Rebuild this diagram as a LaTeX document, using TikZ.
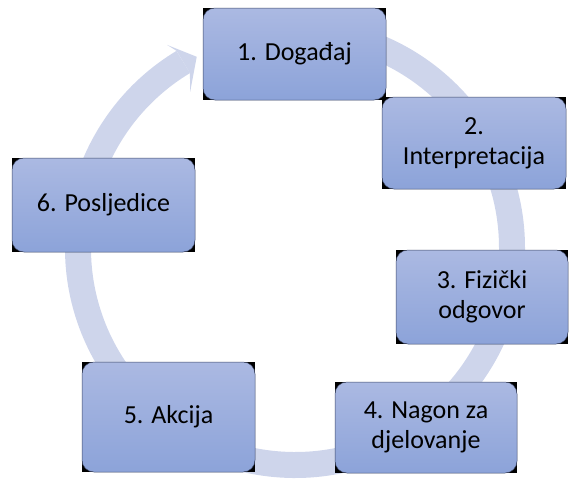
\documentclass[tikz,border=0pt]{standalone}
\usepackage{fontspec}
\setmainfont{Carlito}
\usetikzlibrary{backgrounds}

\definecolor{ringblue}{RGB}{206,213,235}
\definecolor{boxtop}{RGB}{171,185,226}
\definecolor{boxbottom}{RGB}{140,163,217}
\definecolor{boxline}{RGB}{60,70,100}

\tikzset{
  phase/.style={rounded corners=12pt, top color=boxtop, bottom color=boxbottom,
    draw=boxline, line width=0.5pt, align=center, text=black, inner sep=0pt,
    font=\fontsize{26}{30}\selectfont},
}

\begin{document}
\begin{tikzpicture}[x=1pt, y=-1pt, line join=round]

  %% ==== the six phases ====
  \node[phase, minimum width=183pt, minimum height=92pt] (dogadaj) at (294.5,54) {1. Događaj};
  \node[phase, minimum width=184pt, minimum height=92pt] (interpretacija) at (474,143) {2.\\Interpretacija};
  \node[phase, minimum width=172pt, minimum height=94pt] (odgovor) at (482,297) {3. Fizički\\odgovor};
  \node[phase, minimum width=182pt, minimum height=91pt] (nagon) at (426,427.5) {4. Nagon za\\djelovanje};
  \node[phase, minimum width=173pt, minimum height=110pt] (akcija) at (168.5,417) {5. Akcija};
  \node[phase, minimum width=183pt, minimum height=94pt] (posljedice) at (103.5,205) {6. Posljedice};

  \begin{scope}[on background layer]
    %% ==== cycle ring with its head ====
    \begin{scope}[shift={(295,248)}]
      \draw[ringblue, line width=26pt] (-85:217) arc[start angle=-85, end angle=239, radius=217];
      \fill[ringblue] (239:230) -- (237.8:240) -- (242.8:215) -- (236.1:188) -- (239:204) -- cycle;
    \end{scope}
    %% ==== hard shadows behind the boxes ====
    \foreach \n in {dogadaj, interpretacija, odgovor, nagon, akcija, posljedice}
      \fill[black] (\n.south west) rectangle (\n.north east);
  \end{scope}

  \pgfresetboundingbox
  \path[use as bounding box] (0,0) rectangle (570,479);
\end{tikzpicture}
\end{document}
